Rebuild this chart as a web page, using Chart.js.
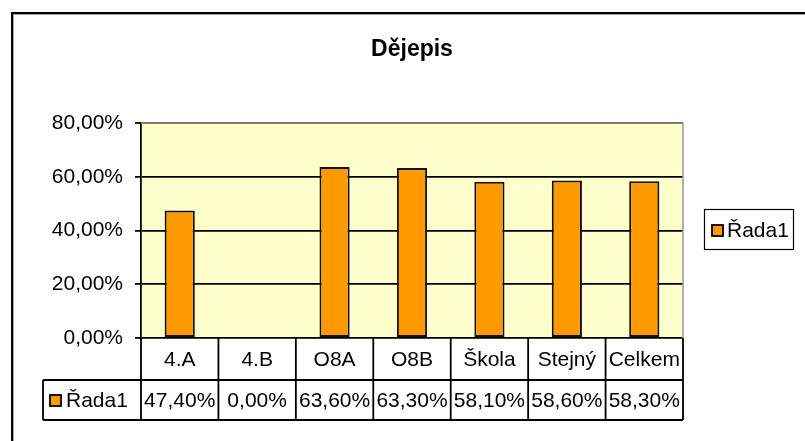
<!DOCTYPE html>
<html>
<head>
<meta charset="utf-8">
<script src="https://cdn.jsdelivr.net/npm/chart.js@4/dist/chart.umd.min.js"></script>
<style>
  html, body { margin: 0; padding: 0; background: #fff; }
  #wrap { width: 805px; height: 441px; }
</style>
</head>
<body>
<div id="wrap"><canvas id="c" width="805" height="441"></canvas></div>
<script>
const chartTitle = 'Dějepis';
const seriesName = 'Řada1';
const categories = ['4.A', '4.B', 'O8A', 'O8B', 'Škola', 'Stejný', 'Celkem'];
const values = [0.474, 0.0, 0.636, 0.633, 0.581, 0.586, 0.583];
const yTicks = [0, 0.2, 0.4, 0.6, 0.8];

const FONT = '"Liberation Sans", Arial, sans-serif';
const fmtPct = v => (v * 100).toFixed(2).replace('.', ',') + '%';

const decor = {
  id: 'decor',
  beforeDraw(chart) {
    const ctx = chart.ctx, a = chart.chartArea;
    ctx.save();
    ctx.fillStyle = '#fff';
    ctx.fillRect(0, 0, chart.width, chart.height);
    // outer border
    ctx.strokeStyle = '#a0a0a0';
    ctx.lineWidth = 1;
    ctx.beginPath();
    ctx.moveTo(13.5, chart.height); ctx.lineTo(13.5, 14.5); ctx.lineTo(chart.width, 14.5);
    ctx.stroke();
    ctx.strokeStyle = '#000';
    ctx.lineWidth = 2;
    ctx.beginPath();
    ctx.moveTo(12, chart.height); ctx.lineTo(12, 13); ctx.lineTo(chart.width, 13);
    ctx.stroke();
    // plot background
    ctx.fillStyle = '#FFFFCC';
    ctx.fillRect(a.left, a.top, a.right - a.left, a.bottom - a.top);
    ctx.restore();
  },
  afterDraw(chart) {
    const ctx = chart.ctx, a = chart.chartArea, xs = chart.scales.x;
    ctx.save();
    // gray top/right plot border
    ctx.strokeStyle = '#9a9a9a';
    ctx.lineWidth = 1.5;
    ctx.beginPath();
    ctx.moveTo(a.left, a.top); ctx.lineTo(a.right, a.top); ctx.lineTo(a.right, a.bottom);
    ctx.stroke();

    // title
    ctx.fillStyle = '#000';
    ctx.font = 'bold 23px ' + FONT;
    ctx.textAlign = 'center';
    ctx.textBaseline = 'middle';
    ctx.fillText(chartTitle, (a.left + a.right) / 2, 50);

    // data table
    const n = categories.length;
    const colW = (a.right - a.left) / n;
    const r0 = a.bottom, r1 = a.bottom + 42, r2 = a.bottom + 82;
    const leftX = 43;
    ctx.strokeStyle = '#000';
    ctx.lineWidth = 1.8;
    ctx.beginPath();
    ctx.moveTo(leftX, r1); ctx.lineTo(a.right, r1);
    ctx.moveTo(leftX, r2); ctx.lineTo(a.right, r2);
    ctx.moveTo(leftX, r1); ctx.lineTo(leftX, r2);
    for (let i = 0; i <= n; i++) {
      const x = i === n ? a.right : xs.getPixelForValue(i) - colW / 2;
      ctx.moveTo(x, r0); ctx.lineTo(x, r2);
    }
    ctx.stroke();

    ctx.font = '21px ' + FONT;
    ctx.textAlign = 'center';
    ctx.textBaseline = 'middle';
    ctx.fillStyle = '#000';
    categories.forEach((c, i) => {
      const cx = xs.getPixelForValue(i);
      ctx.fillText(c, cx, (r0 + r1) / 2 + 1);
      ctx.fillText(fmtPct(values[i]), cx, (r1 + r2) / 2 + 1);
    });
    // series key in table
    ctx.fillStyle = '#FF9900';
    ctx.fillRect(50, 395, 11, 11);
    ctx.strokeStyle = '#000';
    ctx.lineWidth = 1.8;
    ctx.strokeRect(50, 395, 11, 11);
    ctx.fillStyle = '#000';
    ctx.textAlign = 'left';
    ctx.fillText(seriesName, 66, (r1 + r2) / 2 + 1);

    // legend
    ctx.strokeStyle = '#000';
    ctx.lineWidth = 1.2;
    ctx.strokeRect(704.5, 209.5, 89, 40);
    ctx.fillStyle = '#FF9900';
    ctx.fillRect(712, 225, 11, 11);
    ctx.lineWidth = 1.8;
    ctx.strokeRect(712, 225, 11, 11);
    ctx.fillStyle = '#000';
    ctx.fillText(seriesName, 727, 231);
    ctx.restore();
  }
};

new Chart(document.getElementById('c'), {
  type: 'bar',
  data: {
    labels: categories,
    datasets: [{
      label: seriesName,
      data: values,
      backgroundColor: '#FF9900',
      borderColor: '#111',
      borderWidth: 2,
      borderSkipped: false,
      categoryPercentage: 1.0,
      barPercentage: 0.39
    }]
  },
  options: {
    responsive: false,
    animation: false,
    devicePixelRatio: 1,
    layout: { padding: { left: 12, top: 123, right: 122, bottom: 103 } },
    plugins: {
      legend: { display: false },
      title: { display: false },
      tooltip: { enabled: false }
    },
    scales: {
      x: { display: false },
      y: {
        min: 0, max: 0.8,
        afterBuildTicks(scale) { scale.ticks = yTicks.map(v => ({ value: v })); },
        afterFit(scale) { scale.width = 129; },
        ticks: {
          callback: v => fmtPct(v),
          color: '#000',
          font: { family: FONT, size: 21 },
          padding: 12
        },
        grid: { color: '#000', lineWidth: 1.8, tickLength: 6, drawTicks: true },
        border: { color: '#000', width: 1.8 }
      }
    }
  },
  plugins: [decor]
});
</script>
</body>
</html>
